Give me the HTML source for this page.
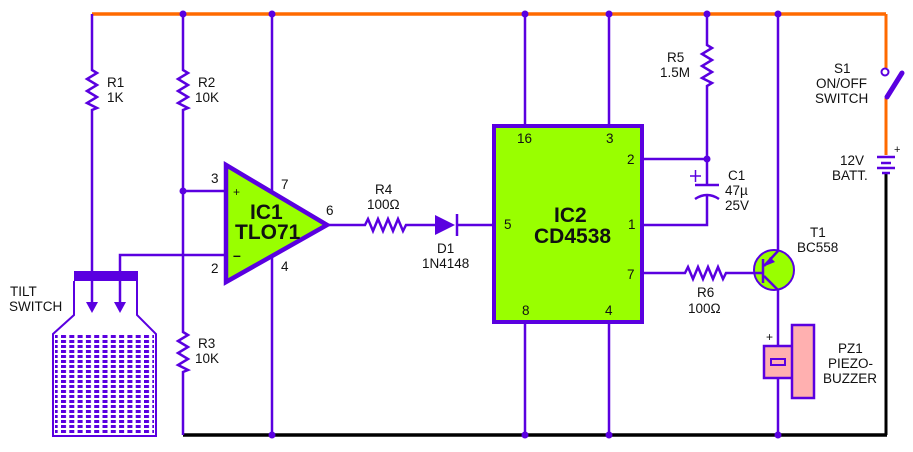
<!DOCTYPE html>
<html><head><meta charset="utf-8"><style>
html,body{margin:0;padding:0;background:#fff;}
svg{display:block}
text{font-family:"Liberation Sans",sans-serif;font-size:13.5px;fill:#111;}
.b{font-weight:bold;font-size:21px;}
</style></head><body>
<svg width="913" height="452" viewBox="0 0 913 452" xmlns="http://www.w3.org/2000/svg">
<defs>
<pattern id="dots" x="61" y="335" width="8.3" height="5" patternUnits="userSpaceOnUse">
<rect x="0" y="0" width="5" height="3" fill="#5a00e0"/>
</pattern>
</defs>
<g stroke="#5a00e0" stroke-width="2.5" fill="none">
<line x1="92" y1="14" x2="886" y2="14" stroke="#ff6a00" stroke-width="3.5"/>
<line x1="886" y1="14" x2="886" y2="68" stroke="#ff6a00" stroke-width="3"/>
<line x1="886" y1="98" x2="886" y2="155" stroke="#ff6a00" stroke-width="3"/>
<line x1="183" y1="435" x2="887" y2="435" stroke="#000" stroke-width="3.5"/>
<line x1="886" y1="174" x2="886" y2="435" stroke="#000" stroke-width="3"/>
<polyline points="92,14 92,70 97,73 87,79 97,85 87,91 97,97 87,103 97,108 92,110 92,272"/>
<polyline points="183,14 183,70 188,73 178,79 188,85 178,91 188,97 178,103 188,108 183,110 183,332 188,335 178,341 188,347 178,353 188,359 178,365 188,370 183,372 183,435"/>
<line x1="183" y1="191" x2="226" y2="191"/>
<polyline points="120,272 120,255 226,255"/>
<line x1="272" y1="14" x2="272" y2="435"/>
<line x1="92" y1="280" x2="92" y2="304"/>
<line x1="120" y1="280" x2="120" y2="304"/>
<polyline points="329,225 365,225 368,219 373,231 378,219 383,231 388,219 393,231 398,219 403,231 406,225 436,225"/>
<line x1="457" y1="225" x2="494" y2="225"/>
<line x1="525" y1="14" x2="525" y2="125"/>
<line x1="609" y1="14" x2="609" y2="125"/>
<line x1="525" y1="322" x2="525" y2="435"/>
<line x1="609" y1="322" x2="609" y2="435"/>
<polyline points="707,14 707,45 712,48 702,54 712,60 702,66 712,72 702,78 712,83 707,86 707,185"/>
<line x1="642" y1="159" x2="707" y2="159"/>
<polyline points="707,196 707,225 642,225"/>
<line x1="695" y1="185" x2="719" y2="185"/>
<path d="M695,199 Q707,191 719,199"/>
<line x1="690" y1="176" x2="701" y2="176" stroke-width="1.5"/>
<line x1="695.5" y1="170" x2="695.5" y2="182" stroke-width="1.5"/>
<polyline points="642,273 685,273 688,267 693,279 698,267 703,279 708,267 713,279 718,267 723,279 726,273 753,273"/>
<line x1="778" y1="14" x2="778" y2="252"/>
<line x1="778" y1="290" x2="778" y2="345"/>
<line x1="778" y1="378" x2="778" y2="435"/>
</g>
<path d="M74,281 L74,315 L53,334 L53,436 L156,436 L156,334 L137,315 L137,281" fill="none" stroke="#5a00e0" stroke-width="2"/>
<path d="M55,334 L154,334 L154,434 L55,434 Z" fill="url(#dots)"/>
<rect x="74" y="271" width="64" height="10" fill="#5a00e0"/>
<polygon points="86,302 98,302 92,313" fill="#5a00e0"/>
<polygon points="114,302 126,302 120,313" fill="#5a00e0"/>
<polygon points="226,165 226,282 327,225" fill="#99ff00" stroke="#5a00e0" stroke-width="4.5"/>
<polygon points="435,215 435,235 455,225" fill="#5a00e0"/>
<line x1="457" y1="214" x2="457" y2="236" stroke="#5a00e0" stroke-width="2.5"/>
<rect x="494" y="126" width="148" height="196" fill="#99ff00" stroke="#5a00e0" stroke-width="4"/>
<circle cx="774" cy="270" r="20" fill="#99ff00" stroke="#5a00e0" stroke-width="2"/>
<g stroke="#5a00e0" stroke-width="2.5">
<line x1="753" y1="273" x2="763" y2="273"/>
<line x1="763" y1="259" x2="763" y2="283"/>
<line x1="778" y1="251" x2="764" y2="266"/>
<line x1="764" y1="276" x2="778" y2="290"/>
</g>
<polygon points="765,266 775,262 770,257" fill="#5a00e0"/>
<rect x="764" y="346" width="29" height="32" fill="#ffb0b0" stroke="#5a00e0" stroke-width="2.5"/>
<rect x="771" y="359" width="14" height="6" fill="#ffb0b0" stroke="#5a00e0" stroke-width="2"/>
<rect x="792" y="325" width="22" height="73" fill="#ffb0b0" stroke="#5a00e0" stroke-width="2.5"/>
<circle cx="885" cy="72" r="3.5" fill="#fff" stroke="#5a00e0" stroke-width="2"/>
<line x1="887" y1="97" x2="902" y2="73" stroke="#5a00e0" stroke-width="5" stroke-linecap="round"/>
<g stroke="#5a00e0" stroke-width="2.5">
<line x1="877" y1="157" x2="895" y2="157"/>
<line x1="881" y1="163" x2="891" y2="163"/>
<line x1="877" y1="168" x2="895" y2="168"/>
<line x1="882" y1="173" x2="890" y2="173"/>
</g>
<g fill="#5a00e0">
<circle cx="183" cy="14" r="3.5"/><circle cx="272" cy="14" r="3.5"/><circle cx="525" cy="14" r="3.5"/><circle cx="609" cy="14" r="3.5"/><circle cx="707" cy="14" r="3.5"/><circle cx="778" cy="14" r="3.5"/>
<circle cx="272" cy="435" r="3.5"/><circle cx="525" cy="435" r="3.5"/><circle cx="609" cy="435" r="3.5"/><circle cx="778" cy="435" r="3.5"/>
<circle cx="183" cy="191" r="3.5"/><circle cx="707" cy="159" r="3.5"/>
</g>
<text x="107" y="87">R1</text><text x="107" y="102">1K</text>
<text x="198" y="87">R2</text><text x="195" y="102">10K</text>
<text x="198" y="348">R3</text><text x="195" y="363">10K</text>
<text x="10" y="296">TILT</text><text x="9" y="311">SWITCH</text>
<text x="211" y="183">3</text><text x="211" y="273">2</text>
<text x="281" y="189">7</text><text x="281" y="271">4</text>
<text x="326" y="215">6</text>
<text x="233" y="196" style="font-size:12px">+</text>
<text x="233" y="260" style="font-size:14px;font-weight:bold">–</text>
<text class="b" x="250" y="219">IC1</text><text class="b" x="235" y="239">TLO71</text>
<text x="375" y="194">R4</text><text x="367" y="209">100Ω</text>
<text x="437" y="253">D1</text><text x="422" y="268">1N4148</text>
<text x="517" y="143">16</text><text x="606" y="143">3</text>
<text x="627" y="164">2</text><text x="504" y="229">5</text><text x="628" y="229">1</text>
<text x="627" y="279">7</text><text x="522" y="315">8</text><text x="605" y="315">4</text>
<text class="b" x="554" y="222">IC2</text><text class="b" x="534" y="243">CD4538</text>
<text x="667" y="62">R5</text><text x="660" y="77">1.5M</text>
<text x="728" y="180">C1</text><text x="725" y="195">47µ</text><text x="725" y="210">25V</text>
<text x="697" y="297">R6</text><text x="688" y="313">100Ω</text>
<text x="810" y="237">T1</text><text x="797" y="252">BC558</text>
<text x="766" y="341" style="font-size:12px">+</text>
<text x="838" y="353">PZ1</text><text x="828" y="368">PIEZO-</text><text x="823" y="383">BUZZER</text>
<text x="834" y="73">S1</text><text x="816" y="88">ON/OFF</text><text x="815" y="103">SWITCH</text>
<text x="894" y="153" style="font-size:11px">+</text>
<text x="840" y="165">12V</text><text x="832" y="180">BATT.</text>
</svg>
</body></html>
